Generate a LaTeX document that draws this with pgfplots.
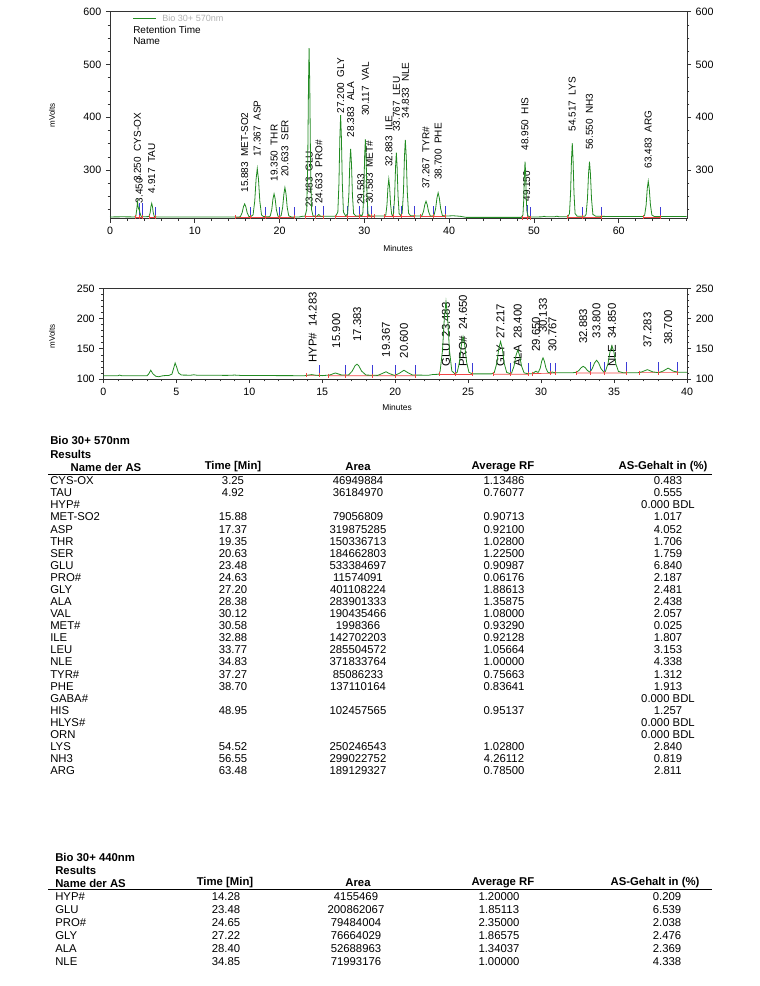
\documentclass[border=0pt]{standalone}
\usepackage{fontspec}
\setmainfont{Liberation Sans}
\usepackage{pgfplots}
\pgfplotsset{compat=1.18}

\definecolor{trace}{RGB}{34,139,34}
\definecolor{intmark}{RGB}{60,60,215}
\definecolor{basel}{RGB}{240,70,70}

\newcommand{\tabfont}{\fontsize{8.5}{9.06}\selectfont}
\newcommand{\tabfontb}{\fontsize{8.5}{9.75}\selectfont}

\pgfplotsset{
  chrom/.style={
    scale only axis, anchor=south west,
    axis line style={black!80, line width=0.5pt},
    tick style={black!80, line width=0.45pt},
    tick align=outside,
    major tick length=3pt, minor tick length=1.8pt,
    /pgf/number format/assume math mode=true,
    ticklabel style={font=\fontsize{8}{9}\selectfont},
  },
}
\tikzset{
  pk/.style={rotate=90, anchor=west, inner sep=0pt, font=\fontsize{7.5}{8}\selectfont},
  pkb/.style={rotate=90, anchor=west, inner sep=0pt, font=\fontsize{8.5}{9}\selectfont},
}

\begin{document}
\begin{tikzpicture}
\path[use as bounding box] (0,0) rectangle (570pt,-739.5pt);

% ---------------- 570 nm chromatogram ----------------
\begin{axis}[chrom, at={(82.5pt,-164pt)}, width=432.75pt, height=155.25pt,
  xmin=0, xmax=68.05, ymin=208, ymax=600,
  xtick={0,10,...,60}, minor xtick={0,2,...,68},
  ytick={300,400,500,600}, minor ytick={225,250,...,575},
  xtick pos=left, ytick pos=left, unbounded coords=jump]
\node[pk] at (axis cs:3.45,237) {3.450};
\node[pk] at (axis cs:3.25,277) {3.250~~CYS-OX};
\node[pk] at (axis cs:4.917,256) {4.917~~TAU};
\node[pk] at (axis cs:15.883,257) {15.883~~MET-SO2};
\node[pk] at (axis cs:17.367,325) {17.367~~ASP};
\node[pk] at (axis cs:19.35,278) {19.350~~THR};
\node[pk] at (axis cs:20.633,287) {20.633~~SER};
\node[pk] at (axis cs:23.483,228) {23.483~~GLU};
\node[pk] at (axis cs:24.633,236) {24.633~~PRO\#};
\node[pk] at (axis cs:27.2,407) {27.200~~GLY};
\node[pk] at (axis cs:28.383,362) {28.383~~ALA};
\node[pk] at (axis cs:29.583,234) {29.583};
\node[pk] at (axis cs:30.117,402) {30.117~~VAL};
\node[pk] at (axis cs:30.583,236) {30.583~~MET\#};
\node[pk] at (axis cs:32.883,306) {32.883~~ILE};
\node[pk] at (axis cs:33.767,372) {33.767~~LEU};
\node[pk] at (axis cs:34.833,398) {34.833~~NLE};
\node[pk] at (axis cs:37.267,264) {37.267~~TYR\#};
\node[pk] at (axis cs:38.7,281) {38.700~~PHE};
\node[pk] at (axis cs:48.95,337) {48.950~~HIS};
\node[pk] at (axis cs:49.15,240) {49.150};
\node[pk] at (axis cs:54.517,373) {54.517~~LYS};
\node[pk] at (axis cs:56.55,338) {56.550~~NH3};
\node[pk] at (axis cs:63.483,303) {63.483~~ARG};
% baselines of the integration
\addplot[basel, line width=0.5pt, mark=|, mark size=1.5pt] coordinates {
(2.95,210.8)(3.45,210.8)(3.85,210.8)(3.85,nan)
(4.6,210.8)(5.35,210.8)(5.35,nan)
(14.8,210.8)(16.55,210.8)(18.35,210.8)(20.0,210.8)(21.7,210.8)(21.7,nan)
(23.0,212)(24.2,212)(25.15,212)(25.15,nan)
(26.6,212)(27.95,212)(29.35,212)(29.35,nan)
(29.45,212.3)(30.35,212.3)(30.85,212.3)(31.15,212.3)(31.15,nan)
(32.3,212.3)(33.4,212.3)(34.4,212.3)(35.95,212.3)(35.95,nan)
(36.6,212.3)(38.1,212.3)(39.6,212.3)(39.6,nan)
(48.6,210)(49.22,210)(49.55,210)(49.55,nan)
(53.9,211.3)(55.75,211.3)(57.95,211.3)(57.95,nan)
(62.9,211.3)(64.9,211.3)
};
% integration marks
\addplot[intmark, line width=0.5pt] coordinates {
(3.45,211)(3.45,238)(3.45,nan)(3.85,211)(3.85,238)(3.85,nan)
(5.35,211)(5.35,231)(5.35,nan)(16.55,211)(16.55,231)(16.55,nan)
(18.35,211)(18.35,231)(18.35,nan)(20.0,211)(20.0,231)(20.0,nan)
(21.7,211)(21.7,231)(21.7,nan)(24.2,212)(24.2,232)(24.2,nan)
(25.15,212)(25.15,232)(25.15,nan)(27.95,212)(27.95,232)(27.95,nan)
(29.35,212)(29.35,232)(29.35,nan)(30.35,212)(30.35,232)(30.35,nan)
(30.85,212)(30.85,232)(30.85,nan)(33.4,212)(33.4,232)(33.4,nan)
(34.4,212)(34.4,232)(34.4,nan)(35.95,212)(35.95,232)(35.95,nan)
(38.1,212)(38.1,232)(38.1,nan)(39.6,212)(39.6,232)(39.6,nan)
(49.22,210)(49.22,233)(49.22,nan)(49.55,210)(49.55,230)(49.55,nan)
(55.75,211)(55.75,231)(55.75,nan)(57.95,211)(57.95,231)(57.95,nan)
(64.9,211)(64.9,231)
};
\addplot[trace, line width=0.6pt] coordinates {
(0,211.3)(1.5,211.5)(2.9,211.3)(3.05,213)(3.15,225)(3.25,240)(3.33,229)(3.4,226)(3.45,228)(3.52,220)(3.65,213)(3.8,211.5)
(4.6,212)(4.74,219.5)(4.83,231.4)(4.92,237)(5.0,231.4)(5.1,219.5)(5.22,212)(5.5,211.2)(8,211.3)(12,211)(15.2,211)
(15.38,212.1)(15.58,219.1)(15.74,230.6)(15.88,236)(16.02,230.6)(16.18,219.1)(16.38,212.1)(16.6,212)
(16.87,215)(17.07,241)(17.23,283)(17.37,303)(17.51,283)(17.67,241)(17.87,215)(18.1,212)(18.7,211.5)
(18.9,213)(19.08,225.3)(19.22,245.5)(19.35,255)(19.48,245.5)(19.62,225.3)(19.8,213)(19.95,212)
(20.18,213.5)(20.36,229.2)(20.51,254.8)(20.63,267)(20.76,254.8)(20.9,229.2)(21.08,213.5)(21.4,211.2)(22.3,211.2)(22.7,212.5)(23.0,212.5)
(23.21,226)(23.32,315.7)(23.41,461.8)(23.48,531)(23.56,461.8)(23.65,315.7)(23.76,226)(23.95,213)
(24.4,212.5)(24.63,216)(24.85,212.5)(26.6,212.5)
(26.87,220.4)(27.0,274.4)(27.11,362.3)(27.2,404)(27.29,362.3)(27.4,274.4)(27.53,220.4)(27.8,213)
(28.03,217.6)(28.17,253.6)(28.28,312.2)(28.38,340)(28.48,312.2)(28.59,253.6)(28.73,217.6)(29.0,213)
(29.45,212.8)(29.58,215)(29.7,213)
(29.82,218.4)(29.94,259.5)(30.03,326.3)(30.12,358)(30.2,326.3)(30.3,259.5)(30.42,218.4)(30.5,214)(30.58,215)(30.7,213)(32.3,213)
(32.53,215.1)(32.67,235.1)(32.78,267.6)(32.88,283)(32.98,267.6)(33.09,235.1)(33.23,215.1)(33.33,213.5)
(33.44,217.3)(33.57,251.3)(33.68,306.7)(33.77,333)(33.86,306.7)(33.97,251.3)(34.1,217.3)(34.28,214)
(34.46,218.4)(34.61,259.1)(34.73,325.5)(34.83,357)(34.94,325.5)(35.06,259.1)(35.21,218.4)(35.45,213.5)(36.6,213)
(36.77,213.3)(36.97,221.4)(37.13,234.7)(37.27,241)(37.41,234.7)(37.57,221.4)(37.77,213.3)(38.0,213)
(38.2,214)(38.4,226.6)(38.56,247.2)(38.7,257)(38.84,247.2)(39.0,226.6)(39.2,214)(39.6,213)
(40.5,213.5)(41.3,212.5)(42,210.5)(45,210.5)(48.5,210.5)
(48.7,215.1)(48.8,244.8)(48.88,293.1)(48.95,316)(49.02,293.1)(49.1,244.8)(49.17,222)(49.3,213)(49.6,211)
(51.0,211.5)(51.2,212.5)(51.4,211.5)(52.5,211.8)(52.7,212.6)(52.9,211.8)(54,211.5)
(54.19,217.7)(54.32,257)(54.43,321.1)(54.52,351)(54.61,321.1)(54.72,257)(54.85,217.7)(55.1,212.5)(56,212.5)
(56.15,216.1)(56.31,245.5)(56.44,293.3)(56.55,316)(56.66,293.3)(56.79,245.5)(56.95,216.1)(57.3,212.5)(60,212)(62.9,212)
(63.06,214.9)(63.23,233.8)(63.36,264.5)(63.48,279)(63.6,264.5)(63.74,233.8)(63.91,214.9)(64.2,212)(68,212)
};
\end{axis}
% right-hand scale
\begin{axis}[chrom, at={(82.5pt,-164pt)}, width=432.75pt, height=155.25pt,
  xmin=0, xmax=68.05, ymin=208, ymax=600,
  axis y line*=right, axis x line=none,
  ytick={300,400,500,600}, minor ytick={225,250,...,575}]
\addplot[draw=none] coordinates {(1,300)};
\end{axis}

% ---------------- 440 nm chromatogram ----------------
\begin{axis}[chrom, at={(77.5pt,-284.25pt)}, width=437.8pt, height=68pt,
  xmin=0, xmax=40, ymin=100, ymax=250,
  xtick={0,5,...,40}, minor xtick={0,1,...,40},
  ytick={100,150,200,250}, minor ytick={110,120,...,240},
  xtick pos=left, ytick pos=left, unbounded coords=jump]
\node[pkb] at (axis cs:14.35,126.5) {HYP\#~~14.283};
\node[pkb] at (axis cs:15.95,150.8) {15.900};
\node[pkb] at (axis cs:17.4,161.7) {17.383};
\node[pkb] at (axis cs:19.37,135.9) {19.367};
\node[pkb] at (axis cs:20.6,134) {20.600};
\node[pkb] at (axis cs:23.48,120) {GLU~~23.483};
\node[pkb] at (axis cs:24.65,120) {PRO\#~~24.650};
\node[pkb] at (axis cs:27.22,120) {GLY~~27.217};
\node[pkb] at (axis cs:28.4,120) {ALA~~28.400};
\node[pkb] at (axis cs:29.65,145) {29.650};
\node[pkb] at (axis cs:30.13,176) {30.133};
\node[pkb] at (axis cs:30.77,145) {30.767};
\node[pkb] at (axis cs:32.88,158) {32.883};
\node[pkb] at (axis cs:33.8,167) {33.800};
\node[pkb] at (axis cs:34.85,120) {NLE~~34.850};
\node[pkb] at (axis cs:37.28,152) {37.283};
\node[pkb] at (axis cs:38.7,156) {38.700};
\addplot[basel, line width=0.5pt, mark=|, mark size=1.5pt] coordinates {
(13.9,106)(14.8,106)(14.8,nan)
(15.4,105.5)(16.6,105.5)(18.4,105.5)(20.0,105.5)(21.35,105.5)(21.35,nan)
(23.0,107.5)(24.15,107.5)(25.3,107.5)(25.3,nan)
(26.7,108)(27.9,108)(29.1,108)(29.1,nan)
(29.4,109)(30.6,109.5)(31.0,110)(31.0,nan)
(32.4,110)(33.35,110)(34.3,110)(35.85,110)(35.85,nan)
(36.7,110.5)(38.0,110.5)(39.35,110.5)
};
\addplot[intmark, line width=0.5pt] coordinates {
(14.8,105)(14.8,123)(14.8,nan)(16.6,105)(16.6,124)(16.6,nan)
(18.4,105)(18.4,124)(18.4,nan)(20.0,105)(20.0,124)(20.0,nan)
(21.35,105)(21.35,124)(21.35,nan)(24.15,107)(24.15,126)(24.15,nan)
(25.3,107)(25.3,126)(25.3,nan)(27.9,107.5)(27.9,126)(27.9,nan)
(29.1,107.5)(29.1,126)(29.1,nan)(30.6,109)(30.6,127)(30.6,nan)
(31.0,109)(31.0,127)(31.0,nan)(33.35,109.5)(33.35,128)(33.35,nan)
(34.3,109.5)(34.3,128)(34.3,nan)(35.85,109.5)(35.85,128)(35.85,nan)
(38.0,110)(38.0,128)(38.0,nan)(39.35,110)(39.35,128)
};
\addplot[trace, line width=0.6pt] coordinates {
(0,105.3)(1.0,105.3)(1.1,106.5)(1.25,105.5)(3.0,105.5)(3.1,108)(3.25,114.5)(3.4,108.5)(3.6,104.5)(3.8,103.8)(4.1,105.5)(4.5,106)
(4.7,108)(4.82,118)(4.92,126.5)(5.02,120)(5.15,110)(5.35,106.5)(6,106.3)(6.2,107)(6.4,106.3)(8.5,106)(9,106.5)(9.5,105.8)(13.8,105.5)
(14.05,106.5)(14.28,107.3)(14.55,106.3)(15.0,105.6)(15.5,106.5)(15.9,110)(16.3,106.8)(16.8,106.5)
(17.05,113)(17.25,122)(17.38,124.5)(17.5,122)(17.7,113)(18.0,106.5)(18.8,106)(19.1,109)(19.37,112)(19.6,109)(19.95,106)
(20.25,109)(20.6,114.5)(20.9,110)(21.2,106.5)(22.3,106.3)(22.6,107.5)(23.0,107.8)
(23.08,113.3)(23.24,147)(23.37,202)(23.48,228)(23.59,202)(23.72,147)(23.88,113.3)(24.1,108.5)
(24.25,111.2)(24.41,128.5)(24.54,156.7)(24.65,170)(24.76,156.7)(24.89,128.5)(25.05,111.2)(25.3,108.5)(26.6,108.5)
(26.79,110.9)(26.96,125.9)(27.1,150.4)(27.22,162)(27.34,150.4)(27.47,125.9)(27.64,110.9)(27.9,108.7)
(27.98,110.2)(28.14,121.3)(28.28,139.4)(28.4,148)(28.52,139.4)(28.66,121.3)(28.83,110.2)(29.1,108.7)
(29.4,108.8)(29.55,111.5)(29.65,113)(29.72,111.5)
(29.81,111.1)(29.94,118.1)(30.04,129.6)(30.13,135)(30.22,129.6)(30.33,118.1)(30.46,111.1)(30.6,110.3)(30.77,111.5)(30.95,110.3)(32.2,110.5)
(32.38,111)(32.58,113.9)(32.74,118.7)(32.88,121)(33.02,118.7)(33.18,113.9)(33.35,111.3)
(33.5,117.2)(33.66,126.6)(33.8,131)(33.94,126.6)(34.1,117.2)(34.3,111.4)
(34.4,112.5)(34.58,125)(34.72,145.3)(34.85,155)(34.98,145.3)(35.12,125)(35.3,112.5)(35.6,110.5)(36.6,110.3)
(36.9,111.8)(37.28,115.5)(37.65,111.8)(37.95,110.8)(38.1,111)(38.35,113)(38.7,118)(39.05,113)(39.4,111.2)(40,111.3)
};
\end{axis}
\begin{axis}[chrom, at={(77.5pt,-284.25pt)}, width=437.8pt, height=68pt,
  xmin=0, xmax=40, ymin=100, ymax=250,
  axis y line*=right, axis x line=none,
  ytick={100,150,200,250}, minor ytick={110,120,...,240}]
\addplot[draw=none] coordinates {(1,150)};
\end{axis}

% ---------------- texts, in pixel units ----------------
\begin{scope}[x=0.75pt, y=-0.75pt]
\draw[trace, line width=0.6pt] (133,18) -- (156,18);
\node[anchor=west, inner sep=0pt, text=black!30, font=\fontsize{6.8}{8}\selectfont] at (162,18) {Bio 30+ 570nm};
\node[anchor=west, inner sep=0pt, font=\fontsize{7.5}{9}\selectfont] at (133,29.5) {Retention Time};
\node[anchor=west, inner sep=0pt, font=\fontsize{7.5}{9}\selectfont] at (133,41) {Name};
\node[rotate=90, inner sep=0pt, font=\fontsize{6}{7}\selectfont] at (52,115) {mVolts};
\node[rotate=90, inner sep=0pt, font=\fontsize{6}{7}\selectfont] at (52,336) {mVolts};
\node[inner sep=0pt, font=\fontsize{6.3}{7}\selectfont] at (398,248) {Minutes};
\node[inner sep=0pt, font=\fontsize{6.3}{7}\selectfont] at (397,407) {Minutes};

% table 570 nm
\node[anchor=west, inner sep=0pt, font=\bfseries\tabfont] at (50,440) {Bio 30+ 570nm};
\node[anchor=west, inner sep=0pt, font=\bfseries\tabfont] at (50,454) {Results};
\node[inner sep=0pt, font=\bfseries\tabfont] at (106,467) {Name der AS};
\node[inner sep=0pt, font=\bfseries\tabfont] at (233,467) {Time [Min]};
\node[inner sep=0pt, font=\bfseries\tabfont] at (358,467) {Area};
\node[inner sep=0pt, font=\bfseries\tabfont] at (503,467) {Average RF};
\node[inner sep=0pt, font=\bfseries\tabfont] at (663,467) {AS-Gehalt in (\%)};
\draw[line width=0.9pt] (48,474.5) -- (712,474.5);
\node[anchor=north west, inner sep=0pt, align=left, font=\tabfont] at (50,476) {\strut CYS-OX\\TAU\\HYP\#\\MET-SO2\\ASP\\THR\\SER\\GLU\\PRO\#\\GLY\\ALA\\VAL\\MET\#\\ILE\\LEU\\NLE\\TYR\#\\PHE\\GABA\#\\HIS\\HLYS\#\\ORN\\LYS\\NH3\\ARG};
\node[anchor=north, inner sep=0pt, align=center, font=\tabfont] at (233,476) {\strut 3.25\\4.92\\\mbox{}\\15.88\\17.37\\19.35\\20.63\\23.48\\24.63\\27.20\\28.38\\30.12\\30.58\\32.88\\33.77\\34.83\\37.27\\38.70\\\mbox{}\\48.95\\\mbox{}\\\mbox{}\\54.52\\56.55\\63.48};
\node[anchor=north, inner sep=0pt, align=center, font=\tabfont] at (358,476) {\strut 46949884\\36184970\\\mbox{}\\79056809\\319875285\\150336713\\184662803\\533384697\\11574091\\401108224\\283901333\\190435466\\1998366\\142702203\\285504572\\371833764\\85086233\\137110164\\\mbox{}\\102457565\\\mbox{}\\\mbox{}\\250246543\\299022752\\189129327};
\node[anchor=north, inner sep=0pt, align=center, font=\tabfont] at (504,476) {\strut 1.13486\\0.76077\\\mbox{}\\0.90713\\0.92100\\1.02800\\1.22500\\0.90987\\0.06176\\1.88613\\1.35875\\1.08000\\0.93290\\0.92128\\1.05664\\1.00000\\0.75663\\0.83641\\\mbox{}\\0.95137\\\mbox{}\\\mbox{}\\1.02800\\4.26112\\0.78500};
\node[anchor=north, inner sep=0pt, align=center, font=\tabfont] at (668,476) {\strut 0.483\\0.555\\0.000 BDL\\1.017\\4.052\\1.706\\1.759\\6.840\\2.187\\2.481\\2.438\\2.057\\0.025\\1.807\\3.153\\4.338\\1.312\\1.913\\0.000 BDL\\1.257\\0.000 BDL\\0.000 BDL\\2.840\\0.819\\2.811};

% table 440 nm
\node[anchor=west, inner sep=0pt, font=\bfseries\tabfont] at (55,857) {Bio 30+ 440nm};
\node[anchor=west, inner sep=0pt, font=\bfseries\tabfont] at (55,870) {Results};
\node[anchor=west, inner sep=0pt, font=\bfseries\tabfont] at (55,883) {Name der AS};
\node[inner sep=0pt, font=\bfseries\tabfont] at (225,883) {Time [Min]};
\node[inner sep=0pt, font=\bfseries\tabfont] at (358,883) {Area};
\node[inner sep=0pt, font=\bfseries\tabfont] at (503,883) {Average RF};
\node[inner sep=0pt, font=\bfseries\tabfont] at (655,883) {AS-Gehalt in (\%)};
\draw[line width=0.9pt] (48,889.5) -- (712,889.5);
\node[anchor=north west, inner sep=0pt, align=left, font=\tabfontb] at (55,891.5) {\strut HYP\#\\GLU\\PRO\#\\GLY\\ALA\\NLE};
\node[anchor=north, inner sep=0pt, align=center, font=\tabfontb] at (226,891.5) {\strut 14.28\\23.48\\24.65\\27.22\\28.40\\34.85};
\node[anchor=north, inner sep=0pt, align=center, font=\tabfontb] at (356,891.5) {\strut 4155469\\200862067\\79484004\\76664029\\52688963\\71993176};
\node[anchor=north, inner sep=0pt, align=center, font=\tabfontb] at (499,891.5) {\strut 1.20000\\1.85113\\2.35000\\1.86575\\1.34037\\1.00000};
\node[anchor=north, inner sep=0pt, align=center, font=\tabfontb] at (667,891.5) {\strut 0.209\\6.539\\2.038\\2.476\\2.369\\4.338};
\end{scope}
\end{tikzpicture}
\end{document}
